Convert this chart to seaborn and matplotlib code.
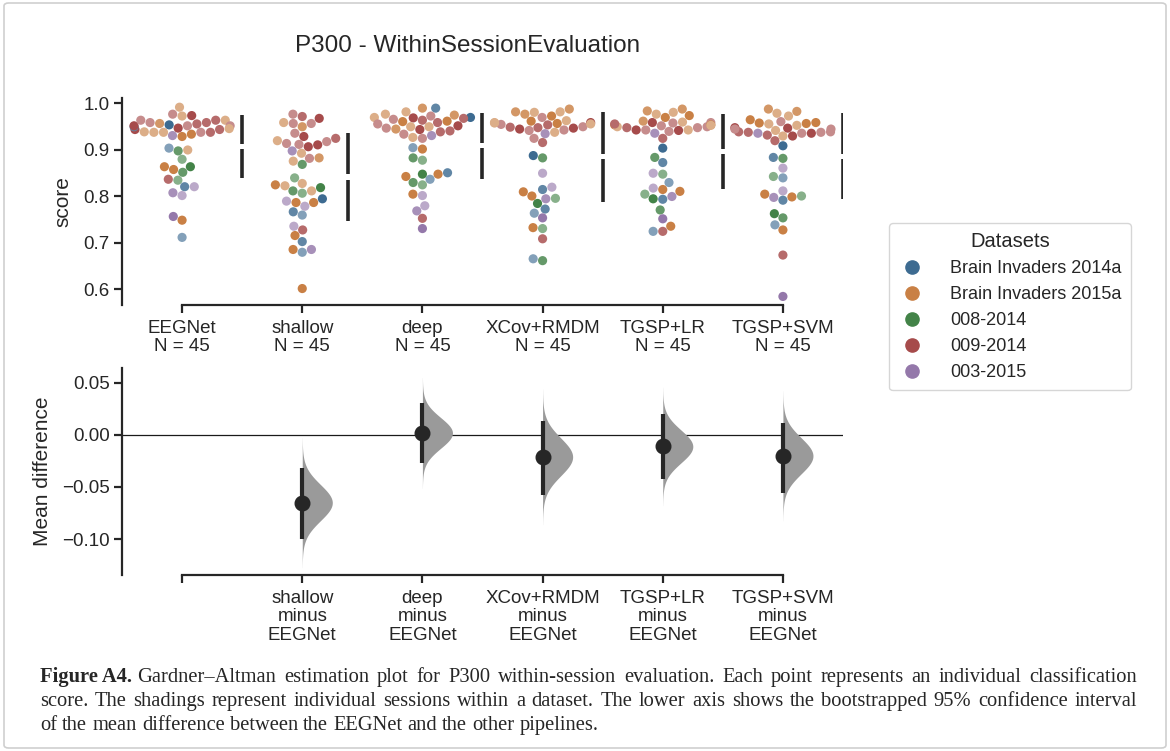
import numpy as np
import pandas as pd
import matplotlib
matplotlib.use("Agg")
import matplotlib.pyplot as plt
import seaborn as sns
from matplotlib.lines import Line2D
from matplotlib.patches import FancyBboxPatch
from matplotlib.colors import to_rgb

# ---------------- data ----------------
pipelines = ["EEGNet", "shallow", "deep", "XCov+RMDM", "TGSP+LR", "TGSP+SVM"]
n_label = "N = 45"
dataset_names = ["Brain Invaders 2014a", "Brain Invaders 2015a", "008-2014", "009-2014", "003-2015"]
dataset_codes = ["A", "B", "C", "D", "E"]
base_colors = ["#3d6b91", "#c98045", "#438348", "#a64b4b", "#9478aa"]
session_mix = [0.0, 0.18, 0.36]   # session shading (mix with white)

eegnet_scores = [0.953, 0.943, 0.938, 0.972, 0.937, 0.958, 0.937, 0.956, 0.976, 0.963,
                 0.949, 0.930, 0.991, 0.946, 0.928, 0.963, 0.933, 0.951, 0.937, 0.958,
                 0.937, 0.963, 0.943, 0.973, 0.951, 0.951, 0.945, 0.955,
                 0.903, 0.897, 0.899, 0.879, 0.863, 0.857, 0.851, 0.863, 0.834, 0.836,
                 0.820, 0.820, 0.807, 0.801, 0.756, 0.748, 0.711]
eegnet_groups = ["A0", "D0", "B2", "B2", "B2", "D1", "D1", "B1", "D2", "B2",
                 "A1", "E1", "B2", "D0", "B0", "D1", "B0", "D0", "B2", "D2",
                 "D2", "D2", "D1", "D0", "D2", "D2", "B2", "D1",
                 "A2", "C1", "B2", "C2", "B0", "B0", "C1", "C0", "C2", "D1",
                 "A1", "E2", "E1", "E2", "E0", "B0", "A2"]

shallow_scores = [0.958, 0.971, 0.976, 0.949, 0.956, 0.956, 0.967, 0.919, 0.911, 0.928,
                  0.935, 0.913, 0.924, 0.906, 0.910, 0.917, 0.897, 0.892, 0.875, 0.868,
                  0.881, 0.882,
                  0.839, 0.827, 0.822, 0.824, 0.811, 0.806, 0.811, 0.818, 0.794, 0.786,
                  0.778, 0.786, 0.789, 0.766, 0.759, 0.735, 0.727, 0.715, 0.702, 0.685,
                  0.679, 0.685, 0.601]
shallow_groups = ["B2", "D1", "D2", "B1", "D2", "D2", "D0", "B2", "D2", "D0",
                  "D2", "D2", "D1", "D0", "D0", "D2", "E1", "B2", "B2", "C1",
                  "D2", "B1",
                  "C2", "B2", "B2", "B0", "C1", "C2", "B2", "C0", "A0", "B0",
                  "E2", "B0", "E2", "A1", "A2", "E2", "D1", "B0", "A1", "E1",
                  "A2", "B0", "B0"]

deep_scores = [0.976, 0.969, 0.969, 0.967, 0.951, 0.940, 0.955, 0.938, 0.989, 0.981,
               0.989, 0.965, 0.949, 0.963, 0.943, 0.968, 0.949, 0.958, 0.974, 0.961,
               0.944, 0.960, 0.946, 0.972, 0.926, 0.924, 0.930, 0.933,
               0.904, 0.901, 0.882, 0.877, 0.850, 0.847, 0.842, 0.836, 0.847, 0.829,
               0.824, 0.801, 0.804, 0.779, 0.768, 0.752, 0.730]
deep_groups = ["B2", "B2", "A0", "D1", "D0", "D1", "D2", "D1", "B1", "B2",
               "A1", "D2", "B2", "D1", "D0", "D0", "B2", "D1", "B1", "B0",
               "B1", "B0", "D2", "D2", "B2", "D2", "E1", "D2",
               "A2", "B0", "C1", "C2", "A1", "B0", "B0", "A2", "C0", "C1",
               "C2", "E2", "B0", "E2", "E1", "D1", "E0"]

xcov_scores = [0.962, 0.956, 0.954, 0.947, 0.944, 0.972, 0.958, 0.941, 0.976, 0.987,
               0.969, 0.948, 0.980, 0.981, 0.981, 0.953, 0.958, 0.961, 0.934, 0.937,
               0.942, 0.946, 0.949, 0.955, 0.957, 0.924, 0.915,
               0.887, 0.882, 0.849, 0.819, 0.809, 0.814, 0.800, 0.794, 0.795, 0.784,
               0.772, 0.763, 0.753, 0.732, 0.730, 0.708, 0.665, 0.661]
xcov_groups = ["B2", "B0", "D2", "D1", "D0", "B0", "D0", "D2", "B1", "B1",
               "D2", "D1", "B2", "B2", "B1", "D1", "B2", "B0", "E1", "B2",
               "D2", "D0", "D2", "B2", "B2", "D2", "D1",
               "A0", "C1", "E2", "E2", "B0", "A1", "B0", "E1", "C2", "C0",
               "A1", "A2", "E0", "B0", "C2", "D1", "A2", "C1"]

lr_scores = [0.953, 0.951, 0.947, 0.942, 0.942, 0.983, 0.980, 0.961, 0.958, 0.935,
             0.969, 0.949, 0.976, 0.958, 0.939, 0.987, 0.973, 0.959, 0.941, 0.942,
             0.947, 0.949, 0.953, 0.924, 0.955, 0.952, 0.957,
             0.903, 0.883, 0.872, 0.849, 0.847, 0.829, 0.817, 0.814, 0.804, 0.794,
             0.810, 0.793, 0.799, 0.770, 0.751, 0.735, 0.724, 0.724]
lr_groups = ["B0", "D2", "D2", "D2", "D0", "B1", "B2", "B1", "D0", "E1",
             "B0", "B2", "B2", "D2", "D2", "B1", "B0", "B2", "D0", "B2",
             "D1", "D2", "B0", "D1", "D1", "B2", "D2",
             "A0", "C1", "A1", "E2", "C2", "A2", "E2", "B0", "C2", "C0",
             "B0", "A1", "E1", "C1", "E0", "B0", "D1", "A2"]

svm_scores = [0.947, 0.941, 0.937, 0.937, 0.958, 0.935, 0.956, 0.982, 0.952, 0.931,
              0.919, 0.978, 0.944, 0.987, 0.964, 0.946, 0.929, 0.972, 0.929, 0.955,
              0.935, 0.957, 0.935, 0.960, 0.938, 0.938, 0.944,
              0.908, 0.883, 0.881, 0.860, 0.842, 0.839, 0.811, 0.804, 0.797, 0.791,
              0.798, 0.800, 0.762, 0.753, 0.738, 0.727, 0.673, 0.584]
svm_groups = ["D0", "B2", "D1", "D2", "B0", "D2", "B0", "B1", "B2", "D1",
              "D1", "B2", "D2", "B1", "B0", "D0", "B2", "B2", "D0", "B2",
              "D0", "B0", "E1", "D2", "D1", "D2", "D2",
              "A0", "A1", "C1", "E2", "C2", "A2", "E2", "B0", "E1", "A1",
              "B0", "C2", "C0", "C1", "A2", "B0", "D1", "E0"]

diff_labels = ["", "shallow\nminus\nEEGNet", "deep\nminus\nEEGNet",
               "XCov+RMDM\nminus\nEEGNet", "TGSP+LR\nminus\nEEGNet",
               "TGSP+SVM\nminus\nEEGNet"]
diff_means = [-0.065, 0.002, -0.021, -0.011, -0.020]
diff_ci_low = [-0.100, -0.027, -0.058, -0.042, -0.056]
diff_ci_high = [-0.032, 0.031, 0.013, 0.020, 0.012]

caption_head = "Figure A4."
caption_lines = [
    "Gardner\u2013Altman estimation plot for P300 within-session evaluation. Each point represents an individual classification",
    "score. The shadings represent individual sessions within a dataset. The lower axis shows the bootstrapped 95% confidence interval",
    "of the mean difference between the EEGNet and the other pipelines.",
]

# ---------------- assemble ----------------
all_scores = [eegnet_scores, shallow_scores, deep_scores, xcov_scores, lr_scores, svm_scores]
all_groups = [eegnet_groups, shallow_groups, deep_groups, xcov_groups, lr_groups, svm_groups]
rows = []
for p, sc, gr in zip(pipelines, all_scores, all_groups):
    for s, g in zip(sc, gr):
        rows.append({"pipeline": p, "score": s, "code": g})
df = pd.DataFrame(rows)

palette = {}
for code, col in zip(dataset_codes, base_colors):
    rgb = np.array(to_rgb(col))
    for k, m in enumerate(session_mix):
        palette[f"{code}{k}"] = tuple(rgb * (1 - m) + m)

sns.set_theme(style="ticks")
plt.rcParams["font.family"] = ["Liberation Sans", "DejaVu Sans"]
plt.rcParams["axes.linewidth"] = 1.6
plt.rcParams["xtick.major.width"] = 1.6
plt.rcParams["ytick.major.width"] = 1.6
plt.rcParams["xtick.major.size"] = 5.5
plt.rcParams["ytick.major.size"] = 5.5
plt.rcParams["axes.edgecolor"] = "#262626"

W, H = 1170, 751
fig = plt.figure(figsize=(W / 100, H / 100), dpi=100)

def fx(px):
    return px / W

def fy(py):
    return 1 - py / H

ax_top = fig.add_axes([fx(122), fy(305), fx(843) - fx(122), (305 - 98) / H])
ax_bot = fig.add_axes([fx(122), fy(575), fx(843) - fx(122), (575 - 368) / H])

sns.swarmplot(data=df, x="pipeline", y="score", hue="code", order=pipelines,
              palette=palette, size=6.6, linewidth=0, legend=False, ax=ax_top)
ax_top.set_xlim(-0.5, 5.5)
ax_top.set_ylim(0.5656, 1.0108)
ax_top.set_yticks([0.6, 0.7, 0.8, 0.9, 1.0])
ax_top.set_xticks(range(len(pipelines)))
ax_top.set_xticklabels([f"{p}\n{n_label}" for p in pipelines], fontsize=13.5,
                       linespacing=1.12)
ax_top.tick_params(axis="x", pad=5)
ax_top.tick_params(axis="y", labelsize=13.5)
ax_top.set_xlabel("")
ax_top.set_ylabel("score", fontsize=15)
for s in ["top", "right"]:
    ax_top.spines[s].set_visible(False)
ax_top.spines["bottom"].set_bounds(0, 5)

fig.canvas.draw()
# gap lines (mean +/- sd) to the right of each swarm
for i, sc in enumerate(all_scores):
    arr = np.array(sc)
    m, sd = arr.mean(), arr.std(ddof=1)
    xs = []
    for coll in ax_top.collections:
        off = coll.get_offsets()
        if len(off) and abs(np.median(off[:, 0]) - i) < 0.45:
            xs.append(off[:, 0].max())
    xline = (max(xs) if xs else i + 0.4) + 0.1
    gap = 0.0055
    ax_top.plot([xline, xline], [m + gap, m + sd], color="#262626", lw=2.6,
                solid_capstyle="butt")
    ax_top.plot([xline, xline], [m - sd, m - gap], color="#262626", lw=2.6,
                solid_capstyle="butt")

# ---------------- bottom: mean differences ----------------
ax_bot.set_xlim(-0.5, 5.5)
ax_bot.set_ylim(-0.1346, 0.0644)
ax_bot.axhline(0, color="#1a1a1a", lw=0.9, zorder=1)
for j, (m, lo, hi) in enumerate(zip(diff_means, diff_ci_low, diff_ci_high)):
    x = j + 1
    sd = (hi - lo) / 3.92
    yy = np.linspace(m - 3.6 * sd, m + 3.6 * sd, 300)
    dens = np.exp(-0.5 * ((yy - m) / sd) ** 2)
    ax_bot.fill_betweenx(yy, x, x + 0.25 * dens, color="#9a9a9a", lw=0, zorder=2)
    ax_bot.plot([x, x], [lo, hi], color="#262626", lw=3.0, zorder=3,
                solid_capstyle="butt")
    ax_bot.plot([x], [m], "o", color="#262626", ms=10.5, zorder=4)
ax_bot.set_yticks([-0.10, -0.05, 0.0, 0.05])
ax_bot.set_yticklabels(["\u22120.10", "\u22120.05", "0.00", "0.05"])
ax_bot.tick_params(axis="y", labelsize=13.5)
ax_bot.set_xticks(range(6))
ax_bot.set_xticklabels(diff_labels, fontsize=13.5, linespacing=1.12)
ax_bot.tick_params(axis="x", pad=5)
ax_bot.set_ylabel("Mean difference", fontsize=15)
for s in ["top", "right"]:
    ax_bot.spines[s].set_visible(False)
ax_bot.spines["bottom"].set_bounds(0, 5)
ax_top.yaxis.set_label_coords(-0.069, 0.5)
ax_bot.yaxis.set_label_coords(-0.097, 0.5)

# ---------------- title, legend, caption, frame ----------------
fig.text(fx(468), fy(46), "P300 - WithinSessionEvaluation", ha="center", va="center",
         fontsize=17.5, color="#262626")

handles = [Line2D([0], [0], marker="o", ls="", color=c, markersize=9.5) for c in base_colors]
leg = fig.legend(handles, dataset_names, title="Datasets", loc="upper left",
                 bbox_to_anchor=(fx(889), fy(223)), borderaxespad=0, fontsize=13,
                 title_fontsize=14.5, frameon=True, handletextpad=1.3,
                 labelspacing=0.5, borderpad=0.5, handlelength=1.6)
leg.get_frame().set_edgecolor("#cccccc")
leg.get_frame().set_linewidth(1.0)

# caption (justified lines)
serif = ["Liberation Serif", "DejaVu Serif"]
cap_size = 14.8
renderer = fig.canvas.get_renderer()
left_px, right_px = 40, 1137
baselines = [682, 706, 730]

def text_width(t):
    return t.get_window_extent(renderer=renderer).width

head = fig.text(fx(left_px), fy(baselines[0]), caption_head, fontsize=cap_size,
                fontweight="bold", family=serif, va="baseline", ha="left")
head_w = text_width(head)
space_w = text_width(fig.text(0, 0, "a a", fontsize=cap_size, family=serif)) - \
    text_width(fig.text(0, 0, "aa", fontsize=cap_size, family=serif))
for t in fig.texts[-2:]:
    t.remove()

for li, line in enumerate(caption_lines):
    start = left_px + (head_w + space_w if li == 0 else 0)
    words = line.split(" ")
    objs = [fig.text(0, fy(baselines[li]), w, fontsize=cap_size, family=serif,
                     va="baseline", ha="left") for w in words]
    widths = [text_width(o) for o in objs]
    if li < 2:
        gapw = (right_px - start - sum(widths)) / (len(words) - 1)
    else:
        gapw = space_w
    xcur = start
    for o, w in zip(objs, widths):
        o.set_x(fx(xcur))
        xcur += w + gapw

frame = FancyBboxPatch((fx(4), fy(748)), fx(1166) - fx(4), fy(3) - fy(748),
                       boxstyle="round,pad=0,rounding_size=0.004", transform=fig.transFigure,
                       fill=False, edgecolor="#cfcfcf", lw=1.2, zorder=-1)
fig.patches.append(frame)

fig.savefig("out.png", dpi=100)
